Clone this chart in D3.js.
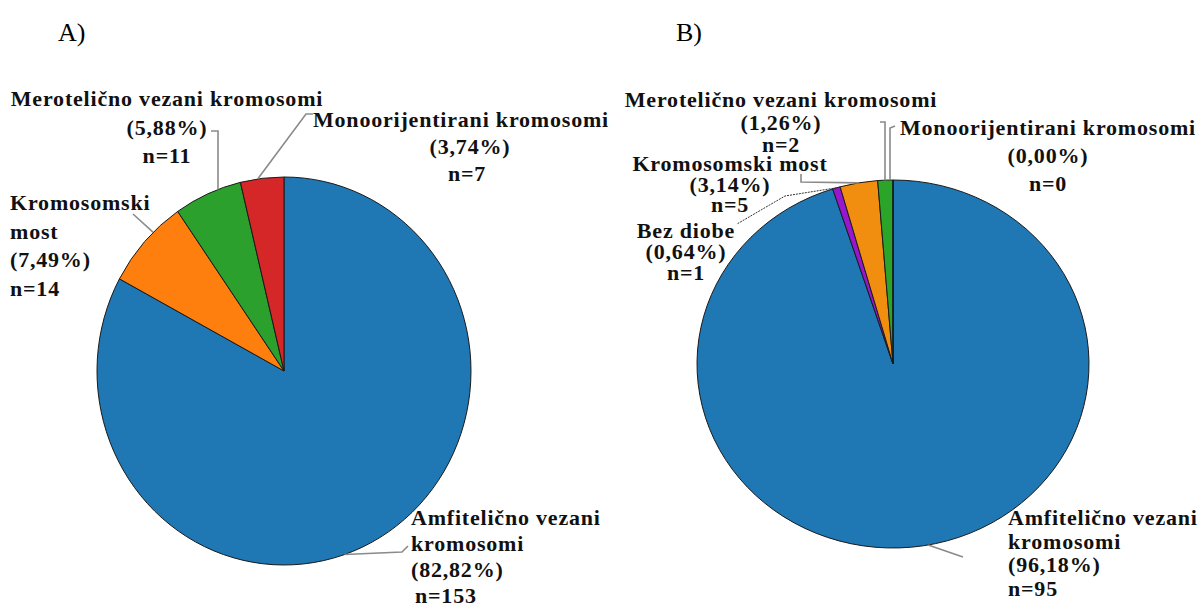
<!DOCTYPE html>
<html>
<head>
<meta charset="utf-8">
<script src="https://cdn.jsdelivr.net/npm/d3@7"></script>
<style>
  html, body { margin: 0; padding: 0; background: #fff; }
  svg { display: block; }
  .lbl { font-family: "Liberation Serif", "Times New Roman", serif; font-weight: bold; font-size: 22px; fill: #111; letter-spacing: 0.8px; }
  .ttl { font-family: "Liberation Serif", "Times New Roman", serif; font-size: 26px; fill: #000; }
</style>
</head>
<body>
<svg id="chart" width="1201" height="605"></svg>
<script>
// ---------------- data ----------------
const categoriesA = ["Amfitelično vezani kromosomi", "Kromosomski most", "Merotelično vezani kromosomi", "Monoorijentirani kromosomi"];
const percentA = [82.82, 7.49, 5.88, 3.74];
const countsA = [153, 14, 11, 7];
const colorsA = ["#1f77b4", "#ff7f0e", "#2ca02c", "#d62728"];

const categoriesB = ["Amfitelično vezani kromosomi", "Bez diobe", "Kromosomski most", "Merotelično vezani kromosomi", "Monoorijentirani kromosomi"];
const percentB = [96.18, 0.64, 3.14, 1.26, 0.00];
const countsB = [95, 1, 5, 2, 0];
const colorsB = ["#1f77b4", "#9617cf", "#f28e0f", "#2aa52a", "#d62728"];

const panelTitles = ["A)", "B)"];

const fmt = v => "(" + v.toFixed(2).replace(".", ",") + "%)";

// ---------------- layout ----------------
const svg = d3.select("#chart");

const panels = [
  {
    title: panelTitles[0], tx: 58, ty: 41,
    cx: 284, cy: 371, rx: 187, ry: 194,
    cats: categoriesA, pct: percentA, n: countsA, colors: colorsA,
    labels: [
      { lines: ["Amfitelično vezani", "kromosomi", fmt(percentA[0]), "n=" + countsA[0]], x: 411, y: 525, dy: 26, anchor: "start", xs: [0, 0, 0, 4],
        leader: { frac: 0.54, pts: [[402, 552], [408, 546]] } },
      { lines: ["Kromosomski", "most", fmt(percentA[1]), "n=" + countsA[1]], x: 10, y: 210, dy: 28.5, anchor: "start",
        leader: { frac: 0.64, pts: [[133, 214]] } },
      { lines: ["Merotelično vezani kromosomi", fmt(percentA[2]), "n=" + countsA[2]], x: 167, y: 106, dy: 28.5, anchor: "middle",
        leader: { frac: 0.67, pts: [[218, 131], [211, 131]], fixedX: 218 } },
      { lines: ["Monoorijentirani kromosomi", fmt(percentA[3]), "n=" + countsA[3]], x: 461, y: 127, dy: 27, anchor: "middle", xs: [0, 9, 6],
        leader: { frac: 0.4, pts: [[306, 114], [313, 114]] } }
    ]
  },
  {
    title: panelTitles[1], tx: 676, ty: 41,
    cx: 893, cy: 364, rx: 196, ry: 184,
    cats: categoriesB, pct: percentB, n: countsB, colors: colorsB,
    labels: [
      { lines: ["Amfitelično vezani", "kromosomi", fmt(percentB[0]), "n=" + countsB[0]], x: 1008, y: 525, dy: 23.5, anchor: "start",
        leader: { frac: 0.496, pts: [[963, 557]] } },
      { lines: ["Bez diobe", fmt(percentB[1]), "n=" + countsB[1]], x: 686, y: 238, dy: 21, anchor: "middle",
        leader: { frac: 0.5, pts: [[785, 196], [737, 224]], dark: true } },
      { lines: ["Kromosomski most", fmt(percentB[2]), "n=" + countsB[2]], x: 730, y: 171, dy: 20.5, anchor: "middle",
        leader: { frac: 0.5, pts: [[801, 182], [801, 174]] } },
      { lines: ["Merotelično vezani kromosomi", fmt(percentB[3]), "n=" + countsB[3]], x: 781, y: 107, dy: 22.5, anchor: "middle",
        leader: { frac: 0.5, pts: [[885, 122], [880, 122]], fixedX: 885 } },
      { lines: ["Monoorijentirani kromosomi", fmt(percentB[4]), "n=" + countsB[4]], x: 1048, y: 135, dy: 28, anchor: "middle",
        leader: { frac: 0.5, pts: [[890, 128], [895, 126]], fixedX: 890 } }
    ]
  }
];

panels.forEach(p => {
  svg.append("text").attr("class", "ttl").attr("x", p.tx).attr("y", p.ty).text(p.title);

  const pie = d3.pie().sort(null).value(d => d)(p.pct);
  const arc = d3.arc().innerRadius(0).outerRadius(p.rx);
  const sy = p.ry / p.rx;

  const g = svg.append("g").attr("transform", `translate(${p.cx},${p.cy}) scale(1,${sy})`);
  g.selectAll("path").data(pie).join("path")
    .attr("d", arc)
    .attr("fill", (d, i) => p.colors[i])
    .attr("stroke", "#1a1a1a")
    .attr("stroke-width", 1)
    .attr("vector-effect", "non-scaling-stroke");

  // leader lines
  p.labels.forEach((lb, i) => {
    const s = pie[i];
    const a = s.startAngle + (s.endAngle - s.startAngle) * lb.leader.frac;
    let x0 = p.cx + Math.sin(a) * p.rx;
    let y0 = p.cy - Math.cos(a) * p.ry;
    if (lb.leader.fixedX !== undefined) {
      x0 = lb.leader.fixedX;
      const t = Math.asin((x0 - p.cx) / p.rx);
      y0 = p.cy - Math.cos(t) * p.ry;
    }
    const pts = [[x0, y0]].concat(lb.leader.pts);
    svg.append("path")
      .attr("d", d3.line()(pts))
      .attr("fill", "none")
      .attr("stroke", lb.leader.dark ? "#333" : "#8a8a8a")
      .attr("stroke-width", lb.leader.dark ? 1 : 1.6)
      .attr("stroke-dasharray", lb.leader.dark ? "2,1" : null);
  });

  // labels
  p.labels.forEach(lb => {
    const t = svg.append("text").attr("class", "lbl").attr("text-anchor", lb.anchor);
    lb.lines.forEach((ln, k) => {
      t.append("tspan")
        .attr("x", lb.x + (lb.xs ? lb.xs[k] : 0))
        .attr("y", lb.y + k * lb.dy)
        .text(ln);
    });
  });
});
</script>
</body>
</html>
